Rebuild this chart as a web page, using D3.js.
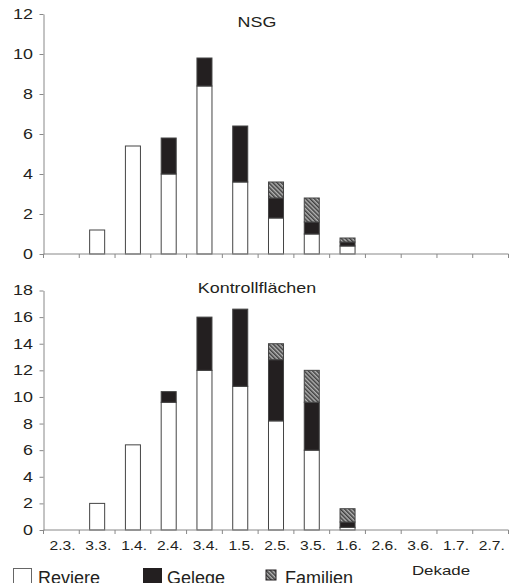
<!DOCTYPE html>
<html>
<head>
<meta charset="utf-8">
<script src="https://cdn.jsdelivr.net/npm/d3@7"></script>
<style>
  body { margin: 0; background: #fff; }
  svg { display: block; font-family: "Liberation Sans", Arial, sans-serif; }
</style>
</head>
<body>
<div id="chart-wrapper"></div>
<script>
// categories (Dekade) and values
const categories = ["2.3.", "3.3.", "1.4.", "2.4.", "3.4.", "1.5.", "2.5.", "3.5.", "1.6.", "2.6.", "3.6.", "1.7.", "2.7."];

const nsgReviere  = [0, 1.2, 5.4, 4.0, 8.4, 3.6, 1.8, 1.0, 0.4, 0, 0, 0, 0];
const nsgGelege   = [0, 0, 0, 1.8, 1.4, 2.8, 1.0, 0.6, 0.2, 0, 0, 0, 0];
const nsgFamilien = [0, 0, 0, 0, 0, 0, 0.8, 1.2, 0.2, 0, 0, 0, 0];

const kfReviere  = [0, 2.0, 6.4, 9.6, 12.0, 10.8, 8.2, 6.0, 0.2, 0, 0, 0, 0];
const kfGelege   = [0, 0, 0, 0.8, 4.0, 5.8, 4.6, 3.6, 0.4, 0, 0, 0, 0];
const kfFamilien = [0, 0, 0, 0, 0, 0, 1.2, 2.4, 1.0, 0, 0, 0, 0];

const nsgTicks = [0, 2, 4, 6, 8, 10, 12];
const kfTicks = [0, 2, 4, 6, 8, 10, 12, 14, 16, 18];

const seriesNames = ["Reviere", "Gelege", "Familien"];

const width = 515, height = 583;
const axisColor = "#888";
const textColor = "#231f20";
// the original figure is a bit wider than tall, so small text is stretched
const stretch = 1.28;

const svg = d3.select("#chart-wrapper")
  .append("svg")
  .attr("width", width)
  .attr("height", height);

// hatch pattern for "Familien"
const defs = svg.append("defs");
const pat = defs.append("pattern")
  .attr("id", "hatch")
  .attr("patternUnits", "userSpaceOnUse")
  .attr("width", 3)
  .attr("height", 3)
  .attr("patternTransform", "rotate(-45)");
pat.append("rect").attr("width", 3).attr("height", 3).attr("fill", "#b4b4b4");
pat.append("line")
  .attr("x1", 0.8).attr("y1", 0).attr("x2", 0.8).attr("y2", 3)
  .attr("stroke", "#2a2a2a").attr("stroke-width", 1.3);

const fills = { Reviere: "#fff", Gelege: "#231f20", Familien: "url(#hatch)" };

const xScale = d3.scaleBand()
  .domain(categories)
  .range([43.5, 508.5])
  .paddingInner(0.58)
  .paddingOuter(0.29);

function stretchedText(parent, x, y, txt, size, sx) {
  return parent.append("text")
    .attr("transform", `translate(${x},${y}) scale(${sx},1)`)
    .attr("text-anchor", "middle")
    .attr("fill", textColor)
    .style("font-size", size + "px")
    .text(txt);
}

function drawPanel(opts) {
  const { reviere, gelege, familien, ticks, maxY, top, bottom, title, titleY, showLabels } = opts;

  const yScale = d3.scaleLinear().domain([0, maxY]).range([bottom, top]);

  const rows = categories.map((c, i) => ({
    cat: c, Reviere: reviere[i], Gelege: gelege[i], Familien: familien[i]
  }));
  const stacked = d3.stack().keys(seriesNames)(rows);

  const g = svg.append("g");

  // bars
  stacked.forEach(layer => {
    g.append("g")
      .selectAll("rect")
      .data(layer.filter(d => d[1] - d[0] > 0))
      .join("rect")
      .attr("x", d => xScale(d.data.cat))
      .attr("y", d => yScale(d[1]))
      .attr("width", xScale.bandwidth())
      .attr("height", d => yScale(d[0]) - yScale(d[1]))
      .attr("fill", fills[layer.key])
      .attr("stroke", "#444")
      .attr("stroke-width", 1);
  });

  // y axis
  const yAxis = g.append("g")
    .attr("transform", `translate(${xScale.range()[0]},0)`)
    .call(d3.axisLeft(yScale).tickValues(ticks).tickSize(4).tickPadding(6).tickSizeOuter(0));
  yAxis.select(".domain").attr("stroke", axisColor);
  yAxis.selectAll(".tick line").attr("stroke", axisColor);
  yAxis.selectAll("text")
    .attr("x", -10.5 / stretch)
    .attr("transform", `scale(${stretch},1)`)
    .attr("fill", textColor)
    .style("font-size", "14px");

  // x axis: line + boundary ticks
  const xa = g.append("g");
  xa.append("line")
    .attr("x1", xScale.range()[0]).attr("x2", xScale.range()[1])
    .attr("y1", bottom).attr("y2", bottom)
    .attr("stroke", axisColor);
  const step = xScale.step();
  const bounds = categories.map(c => xScale(c) - (step - xScale.bandwidth()) / 2)
    .concat([xScale.range()[1]]);
  xa.selectAll("line.tick")
    .data(bounds)
    .join("line")
    .attr("class", "tick")
    .attr("x1", d => d).attr("x2", d => d)
    .attr("y1", bottom).attr("y2", bottom + 4)
    .attr("stroke", axisColor);

  if (showLabels) {
    const xAxisLabels = g.append("g")
      .attr("transform", `translate(0,${bottom})`)
      .call(d3.axisBottom(xScale).tickSize(0).tickPadding(11));
    xAxisLabels.select(".domain").remove();
    xAxisLabels.selectAll("text")
      .attr("x", 1)
      .attr("transform", "scale(1.2,1)")
      .attr("fill", textColor)
      .style("font-size", "13px");
  }

  stretchedText(g, 257, titleY, title, 14, stretch);
}

drawPanel({
  reviere: nsgReviere, gelege: nsgGelege, familien: nsgFamilien,
  ticks: nsgTicks, maxY: 12, top: 14, bottom: 254,
  title: "NSG", titleY: 27, showLabels: false
});

drawPanel({
  reviere: kfReviere, gelege: kfGelege, familien: kfFamilien,
  ticks: kfTicks, maxY: 18, top: 290.5, bottom: 530,
  title: "Kontrollflächen", titleY: 293, showLabels: true
});

// axis title
stretchedText(svg, 441, 575, "Dekade", 13, 1.3);

// legend
const legendItems = [
  { key: "Reviere", x: 13.5, y: 568.5, size: 18, tx: 38 },
  { key: "Gelege", x: 143.5, y: 568.5, size: 18, tx: 167 },
  { key: "Familien", x: 266, y: 570, size: 10, tx: 285 }
];
const legend = svg.append("g");
legendItems.forEach(it => {
  legend.append("rect")
    .attr("x", it.x).attr("y", it.y)
    .attr("width", it.size).attr("height", it.size)
    .attr("fill", fills[it.key])
    .attr("stroke", it.key === "Reviere" ? "#666" : "#231f20")
    .attr("stroke-width", 1);
  legend.append("text")
    .attr("x", it.tx).attr("y", 583.5)
    .attr("fill", textColor)
    .style("font-size", "18px")
    .text(it.key);
});
</script>
</body>
</html>
